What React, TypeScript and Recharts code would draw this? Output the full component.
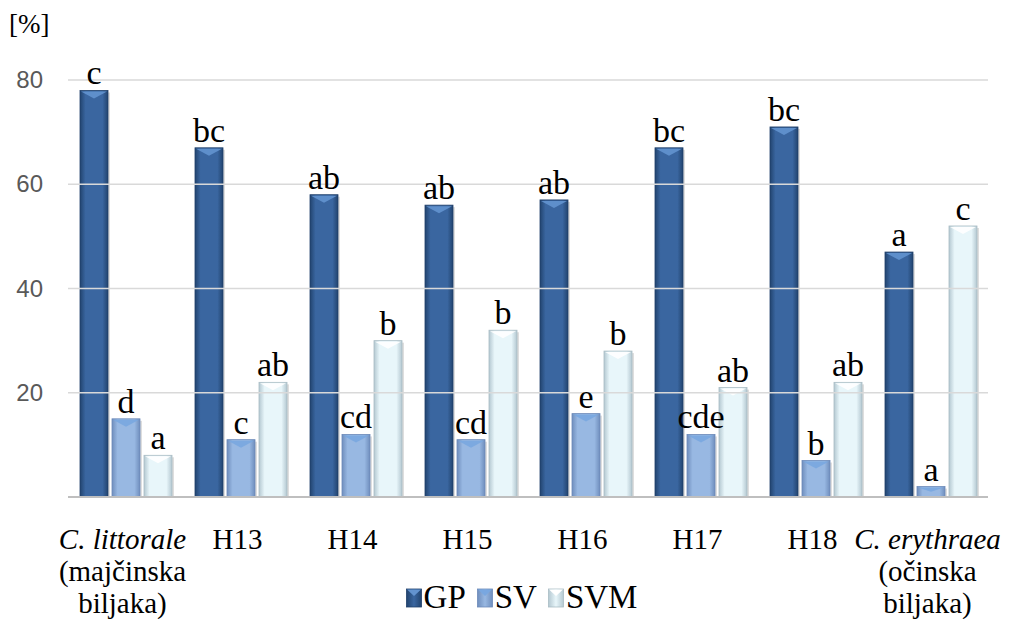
import { BarChart, Bar, XAxis, YAxis, ReferenceLine, Legend, LabelList } from "recharts";

const categories = ["C. littorale", "H13", "H14", "H15", "H16", "H17", "H18", "C. erythraea"];
const subLabels = [["(majčinska", "biljaka)"], [], [], [], [], [], [], ["(očinska", "biljaka)"]];
const gpValues = [78, 67, 58, 56, 57, 67, 71, 47];
const svValues = [15, 11, 12, 11, 16, 12, 7, 2];
const svmValues = [8, 22, 30, 32, 28, 21, 22, 52];
const gpLetters = ["c", "bc", "ab", "ab", "ab", "bc", "bc", "a"];
const svLetters = ["d", "c", "cd", "cd", "e", "cde", "b", "a"];
const svmLetters = ["a", "ab", "b", "b", "b", "ab", "ab", "c"];
const yTicks = [20, 40, 60, 80];

const serif = "'Liberation Serif', 'Times New Roman', serif";

const data = categories.map((name, i) => ({
    name,
    GP: gpValues[i],
    SV: svValues[i],
    SVM: svmValues[i],
    gpL: gpLetters[i],
    svL: svLetters[i],
    svmL: svmLetters[i],
}));

const palettes: Record<string, { edge: string; mid: string; cap: string; line: string }> = {
    GP: { edge: "#22446f", mid: "#3a66a0", cap: "#6393cf", line: "#1f3f6a" },
    SV: { edge: "#6f8ebd", mid: "#98b8e2", cap: "#79a7e0", line: "#6b89b8" },
    SVM: { edge: "#b4c8d1", mid: "#e8f6fa", cap: "#ffffff", line: "#a9bcc4" },
};

const Bar3D = (props: any) => {
    const { x, y, width, height, series } = props;
    if (!height || height <= 0) return null;
    const p = palettes[series];
    const capH = Math.min(8, height / 2);
    return (
        <g>
            <rect x={x + 2} y={y + 2} width={width} height={height - 2} fill="#000" opacity={0.13} />
            <rect x={x} y={y} width={width} height={height} fill={`url(#grad-${series})`} stroke={p.line} strokeWidth={0.8} />
            <polygon
                points={`${x + 1},${y + 1} ${x + width - 1},${y + 1} ${x + width / 2},${y + capH}`}
                fill={p.cap}
                opacity={0.9}
            />
        </g>
    );
};

const LetterLabel = (props: any) => {
    const { x, y, width, value } = props;
    return (
        <text x={x + width / 2} y={y - 6} textAnchor="middle" style={{ fontFamily: serif }} fontSize={34} fill="#000">
            {value}
        </text>
    );
};

const CategoryTick = (props: any) => {
    const { x, y, payload, index } = props;
    const italic = index === 0 || index === categories.length - 1;
    const extra = subLabels[index] || [];
    return (
        <g>
            <text x={x - 3} y={y + 44} textAnchor="middle" style={{ fontFamily: serif }} fontSize={29} fontStyle={italic ? "italic" : "normal"} fill="#000">
                {payload.value}
            </text>
            {extra.map((t: string, j: number) => (
                <text key={j} x={x - 3} y={y + 76 + j * 32} textAnchor="middle" style={{ fontFamily: serif }} fontSize={29} fill="#000">
                    {t}
                </text>
            ))}
        </g>
    );
};

const ValueTick = (props: any) => {
    const { y, payload } = props;
    return (
        <text x={43} y={y + 8} textAnchor="end" fontFamily="'Liberation Sans', sans-serif" fontSize={24} fill="#595959">
            {payload.value}
        </text>
    );
};

const LegendBox = () => {
    const items = ["GP", "SV", "SVM"];
    return (
        <div style={{ display: "flex", justifyContent: "center", alignItems: "center", height: 34, fontFamily: serif, fontSize: 33, color: "#000", paddingLeft: 66 }}>
            {items.map((k) => (
                <div key={k} style={{ display: "flex", alignItems: "center", marginRight: 11 }}>
                    <svg width={17} height={20} style={{ marginRight: 1, marginTop: 2 }}>
                        <rect x={0.5} y={1} width={15} height={18} fill={`url(#lgrad-${k})`} stroke={palettes[k].line} strokeWidth={0.8} />
                        <polygon points="1,1.5 15,1.5 8,8" fill={palettes[k].cap} />
                        <defs>
                            <linearGradient id={`lgrad-${k}`} x1="0" y1="0" x2="1" y2="0">
                                <stop offset="0%" stopColor={palettes[k].edge} />
                                <stop offset="50%" stopColor={palettes[k].mid} />
                                <stop offset="100%" stopColor={palettes[k].edge} />
                            </linearGradient>
                        </defs>
                    </svg>
                    <span>{k}</span>
                </div>
            ))}
        </div>
    );
};

export default function App() {
    return (
        <div style={{ position: "absolute", left: 0, top: 0, width: 1017, height: 619, background: "#fff" }}>
            <div style={{ position: "absolute", left: 9, top: 9, fontFamily: serif, fontSize: 27, color: "#000" }}>[%]</div>
            <BarChart
                width={1017}
                height={619}
                data={data}
                margin={{ top: 54, right: 29, left: 0, bottom: 0 }}
                barSize={28}
                barGap={4}
            >
                <defs>
                    {Object.keys(palettes).map((k) => (
                        <linearGradient key={k} id={`grad-${k}`} x1="0" y1="0" x2="1" y2="0">
                            <stop offset="0%" stopColor={palettes[k].edge} />
                            <stop offset="20%" stopColor={palettes[k].mid} />
                            <stop offset="80%" stopColor={palettes[k].mid} />
                            <stop offset="100%" stopColor={palettes[k].edge} />
                        </linearGradient>
                    ))}
                </defs>
                <XAxis dataKey="name" height={88} axisLine={{ stroke: "#bfbfbf", strokeWidth: 2 }} tickLine={false} tick={<CategoryTick />} interval={0} />
                <YAxis width={68} domain={[0, 85]} ticks={yTicks} axisLine={false} tickLine={false} tick={<ValueTick />} />
                {yTicks.map((t) => (
                    <ReferenceLine key={t} y={t} stroke="#d9d9d9" strokeWidth={1.5} />
                ))}
                <Legend verticalAlign="bottom" content={<LegendBox />} wrapperStyle={{ bottom: 5 }} />
                <Bar dataKey="GP" isAnimationActive={false} shape={(p: any) => <Bar3D {...p} series="GP" />}>
                    <LabelList dataKey="gpL" content={<LetterLabel />} />
                </Bar>
                <Bar dataKey="SV" isAnimationActive={false} shape={(p: any) => <Bar3D {...p} series="SV" />}>
                    <LabelList dataKey="svL" content={<LetterLabel />} />
                </Bar>
                <Bar dataKey="SVM" isAnimationActive={false} shape={(p: any) => <Bar3D {...p} series="SVM" />}>
                    <LabelList dataKey="svmL" content={<LetterLabel />} />
                </Bar>
            </BarChart>
        </div>
    );
}
